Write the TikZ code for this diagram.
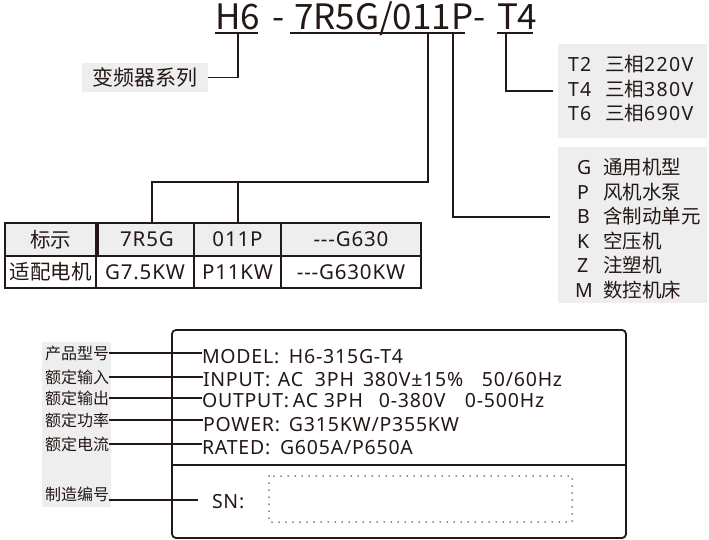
\documentclass[tikz,border=0pt]{standalone}
\usepackage{fontspec}
\setmainfont{Noto Sans}[LetterSpace=4.0]
\newfontfamily\cjk{Noto Sans CJK SC}
\newfontfamily\boxlat{Noto Sans}[LetterSpace=7.0]
\newfontfamily\ttlfont{Noto Sans CJK SC}
\definecolor{ink}{HTML}{231815}
\definecolor{panel}{HTML}{EEEEEE}
\begin{document}
\begin{tikzpicture}[x=1pt,y=-1pt,
  every node/.style={inner sep=0pt, outer sep=0pt, text=ink},
  conn/.style={draw=ink, line width=1.8pt},
  ttl/.style={font=\ttlfont\fontsize{35}{38}\selectfont, anchor=base west},
  rowtxt/.style={font=\boxlat\fontsize{19.5}{22}\selectfont, anchor=base west},
  cell/.style={draw=ink, line width=1.3pt, minimum height=#1, font=\fontsize{20.5}{24}\selectfont},
  hcell/.style={cell=#1, fill=panel},
  lbl/.style={font=\cjk\fontsize{16}{18}\selectfont, anchor=east},
  plate/.style={font=\fontsize{19.5}{24}\selectfont, anchor=base west}
]
\useasboundingbox (0,0) rectangle (709,540);

% ---------- title code ----------
\node[ttl] (h6) at (215,30) {H6};
\node[ttl] (d1) at (272,30) {-};
\node[ttl] (code) at (294,30) {7R5G/011P};
\node[ttl] (d2) at (473,30) {-};
\node[ttl] (t4) at (497,30) {T4};
\draw[conn] (215,33) -- (258,33);
\draw[conn] (290,33) -- (465,33);
\draw[conn] (497,33) -- (533,33);

% ---------- series label ----------
\node[fill=panel, minimum width=126, minimum height=29, font=\cjk\fontsize{21}{24}\selectfont] (series) at (145,77.5) {变频器系列};
\coordinate (tH6) at (238,33);
\draw[conn] (tH6) |- (series.east);

% ---------- voltage box ----------
\node[fill=panel, minimum width=149, minimum height=94, anchor=north west] (volt) at (558,44) {};
\node[rowtxt] (v1) at (568,72) {\makebox[37pt][l]{T2}{\cjk 三相}220V};
\node[rowtxt] (v2) at (568,97) {\makebox[37pt][l]{T4}{\cjk 三相}380V};
\node[rowtxt] (v3) at (568,121) {\makebox[37pt][l]{T6}{\cjk 三相}690V};
\coordinate (tT4) at (506,33);
\coordinate (vEnd) at (553,91);
\draw[conn] (tT4) |- (vEnd);

% ---------- type box ----------
\node[fill=panel, minimum width=149, minimum height=156, anchor=north west] (type) at (558,147) {};
\node[rowtxt] (y1) at (577,175) {\makebox[26pt][l]{G}{\cjk 通用机型}};
\node[rowtxt] (y2) at (577,199.4) {\makebox[26pt][l]{P}{\cjk 风机水泵}};
\node[rowtxt] (y3) at (577,223.8) {\makebox[26pt][l]{B}{\cjk 含制动单元}};
\node[rowtxt] (y4) at (577,248.2) {\makebox[26pt][l]{K}{\cjk 空压机}};
\node[rowtxt] (y5) at (577,272.6) {\makebox[26pt][l]{Z}{\cjk 注塑机}};
\node[rowtxt] (y6) at (575,297) {\makebox[28pt][l]{M}{\cjk 数控机床}};
\coordinate (tP) at (453,33);
\coordinate (yEnd) at (550,217);
\draw[conn] (tP) |- (yEnd);

% ---------- table ----------
\node[hcell=33, minimum width=91]  (a1) at (50.5,239.5) {\cjk 标示};
\node[hcell=33, minimum width=98]  (a2) at (147,239.5) {7R5G};
\node[hcell=33, minimum width=87]  (a3) at (237.5,239.5) {011P};
\node[hcell=33, minimum width=140] (a4) at (351,239.5) {-{}-{}-G630};
\node[cell=32, minimum width=91]  (b1) at (50.5,272) {\cjk 适配电机};
\node[cell=32, minimum width=98]  (b2) at (145,272) {G7.5KW};
\node[cell=32, minimum width=87]  (b3) at (237.5,272) {P11KW};
\node[cell=32, minimum width=140] (b4) at (351,272) {-{}-{}-G630KW};
\coordinate (t011) at (428,33);
\coordinate (j1) at (152,182);
\coordinate (j2) at (238,182);
\draw[conn] (t011) |- (j1) -- (j1 |- a2.north);
\draw[conn] (j2) -- (j2 |- a3.north);

% ---------- nameplate ----------
\fill[panel] (42,342) rectangle (111,507);
\node[draw=ink, line width=1.8pt, rounded corners=4pt, minimum width=454, minimum height=208, anchor=north west] (plate) at (172,330) {};
\draw[ink, line width=1.8pt] (plate.west |- 0,465) -- (plate.east |- 0,465);
\draw[ink, line width=1.5pt, dash pattern=on 0pt off 7pt, line cap=round] (269,476) rectangle (572,522);

\node[plate] (m1) at (202,363) {\makebox[87pt][l]{MODEL:}H6-315G-T4};
\node[plate] (m2) at (203,386) {\makebox[75pt][l]{INPUT:}\makebox[37pt][l]{AC}\makebox[48pt][l]{3PH}\makebox[119pt][l]{380V±15\%}50/60Hz};
\node[plate] (m3) at (202,407) {\makebox[91pt][l]{OUTPUT:}\makebox[31pt][l]{AC}\makebox[55pt][l]{3PH}\makebox[86pt][l]{0-380V}0-500Hz};
\node[plate] (m4) at (203,431) {\makebox[86pt][l]{POWER:}G315KW/P355KW};
\node[plate] (m5) at (202,454) {\makebox[78pt][l]{RATED:}G605A/P650A};
\node[plate] (sn) at (212,508) {SN:};

\node[lbl] (l1) at (109,353) {产品型号};
\node[lbl] (l2) at (109,377) {额定输入};
\node[lbl] (l3) at (109,398) {额定输出};
\node[lbl] (l4) at (109,420) {额定功率};
\node[lbl] (l5) at (109,444) {额定电流};
\node[lbl] (l6) at (109,494) {制造编号};

\draw[conn] (l1.east) -- (l1.east -| m1.west);
\draw[conn] (l2.east) -- (l2.east -| m2.west);
\draw[conn] (l3.east) -- (l3.east -| m3.west);
\draw[conn] (l4.east) -- (l4.east -| m4.west);
\draw[conn] (l5.east) -- (l5.east -| m5.west);
\coordinate (snA) at (109,500);
\coordinate (snB) at (198,500);
\draw[conn] (snA) -- (snB);
\end{tikzpicture}
\end{document}
